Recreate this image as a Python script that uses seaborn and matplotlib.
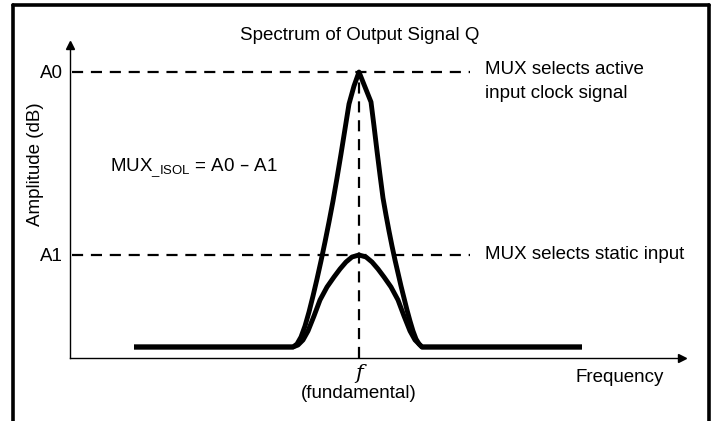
import matplotlib
matplotlib.use('Agg')
import matplotlib.pyplot as plt
from matplotlib.lines import Line2D
import seaborn as sns
import pandas as pd

# ── Data (arbitrary units: frequency 0..612, amplitude 0..313) ─────────────
F0 = 289             # fundamental
A0 = 286             # MUX selects active input clock signal
A1 = 103             # MUX selects static input
DASH_END = 400

# active clock spectrum (tall, pointed peak)
active_freq = [64, 223, 227, 231, 235, 239, 243, 247, 251, 255, 259, 263, 267,
               271, 275, 279, 284, 289, 295, 301, 304, 307, 310, 313, 316, 319,
               322, 325, 328, 331, 334, 337, 340, 343, 346, 349, 352, 512]
active_amp = [11, 11, 14, 21, 32, 46, 62, 79, 97, 116, 136, 157, 180,
              204, 229, 254, 272, 286, 271, 256, 232, 207, 183, 160, 143, 127,
              112, 98, 85, 72, 60, 48, 37, 27, 19, 14, 11, 11]

# static input spectrum (low, rounded peak)
static_freq = [64, 223, 228, 233, 238, 244, 250, 257, 264, 270, 276, 282, 289,
               296, 302, 308, 314, 321, 328, 334, 340, 345, 350, 352, 512]
static_amp = [11, 11, 13, 18, 27, 42, 58, 71, 81, 89, 96, 101, 103,
              101, 96, 89, 81, 71, 58, 42, 27, 18, 13, 11, 11]

YTICKS = [A0, A1]
YTICK_LABELS = ['A0', 'A1']

df = pd.concat([
    pd.DataFrame({'freq': active_freq, 'amp': active_amp, 'input': 'active'}),
    pd.DataFrame({'freq': static_freq, 'amp': static_amp, 'input': 'static'}),
])

sns.set_style('white')
plt.rcParams.update({
    'font.family': ['Liberation Sans', 'DejaVu Sans'],
    'text.color': 'black',
    'axes.labelcolor': 'black',
    'ytick.color': 'black',
    'xtick.color': 'black',
})
FS = 13.5

fig = plt.figure(figsize=(7.17, 4.21), dpi=100)
ax = fig.add_axes([70 / 717, 1 - 358 / 421, 612 / 717, 313 / 421])

sns.lineplot(data=df, x='freq', y='amp', units='input', estimator=None,
             color='black', linewidth=3.5, sort=False, ax=ax,
             solid_joinstyle='round', solid_capstyle='butt')

ax.set_xlim(0, 612)
ax.set_ylim(0, 313)

# dashed reference lines
dash = dict(color='black', linewidth=1.6, dashes=(5, 3.5))
ax.plot([2, DASH_END], [A0, A0], **dash)
ax.plot([2, DASH_END], [A1, A1], **dash)
ax.plot([F0, F0], [0, A0], **dash)

# axes styling: only left/bottom spines with arrowheads
for s in ['top', 'right']:
    ax.spines[s].set_visible(False)
for s in ['left', 'bottom']:
    ax.spines[s].set_color('black')
    ax.spines[s].set_linewidth(1.0)
ax.plot(1, 0, marker='>', color='black', markersize=6,
        transform=ax.transAxes, clip_on=False)
ax.plot(0, 1, marker='^', color='black', markersize=6,
        transform=ax.transAxes, clip_on=False)

ax.set_xticks([])
ax.set_yticks(YTICKS)
ax.set_yticklabels(YTICK_LABELS, fontsize=FS)
ax.tick_params(axis='y', length=0, pad=5)
ax.set_xlabel('')
ax.set_ylabel('Amplitude (dB)', fontsize=FS)
ax.yaxis.set_label_coords(-0.042, 0.62)

xt = ax.get_xaxis_transform()
ax.text(F0, -0.05, 'f', transform=xt, ha='center', va='center',
        fontsize=15, fontstyle='italic', family='DejaVu Serif')
ax.text(F0, -0.112, '(fundamental)', transform=xt, ha='center', va='center',
        fontsize=FS)
ax.text(550, -0.061, 'Frequency', transform=xt, ha='center', va='center',
        fontsize=FS)

ax.text(415, A0 + 2, 'MUX selects active', ha='left', va='center', fontsize=FS)
ax.text(415, A0 - 22, 'input clock signal', ha='left', va='center', fontsize=FS)
ax.text(415, A1, 'MUX selects static input', ha='left', va='center', fontsize=FS)
ax.text(40, 190, r'MUX$_{\mathregular{\_ISOL}}$ = A0 – A1', ha='left',
        va='center', fontsize=FS)

fig.text(360 / 717, 1 - 36 / 421, 'Spectrum of Output Signal Q',
         ha='center', va='center', fontsize=FS)

# outer frame (open at the bottom)
frame = dict(color='black', linewidth=2.6, transform=fig.transFigure)
fig.add_artist(Line2D([13 / 717, 13 / 717], [0, 1 - 5 / 421], **frame))
fig.add_artist(Line2D([13 / 717, 709 / 717], [1 - 5 / 421, 1 - 5 / 421], **frame))
fig.add_artist(Line2D([709 / 717, 709 / 717], [1 - 5 / 421, 0], **frame))

fig.savefig('out.png', dpi=100)
